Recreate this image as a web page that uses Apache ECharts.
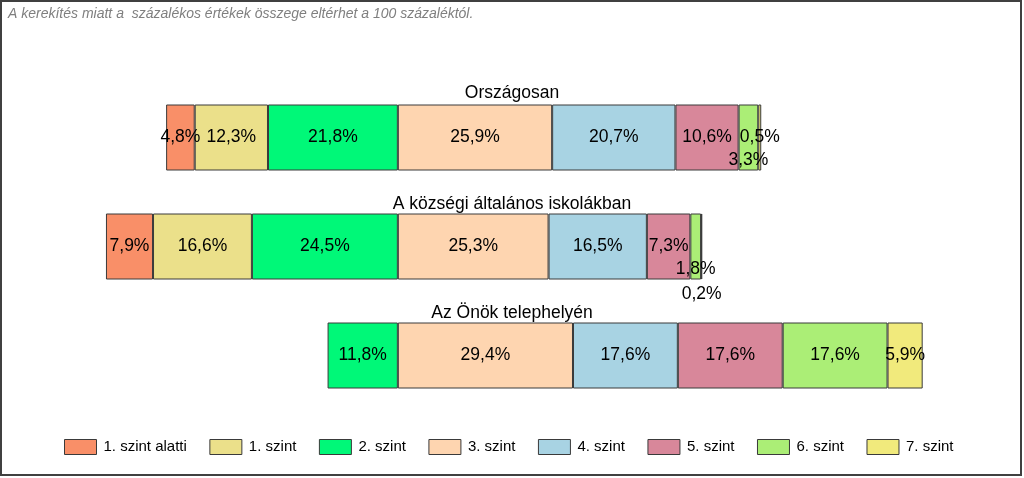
<!DOCTYPE html>
<html>
<head>
<meta charset="utf-8">
<title>Képességszintek</title>
<script src="https://cdn.jsdelivr.net/npm/echarts@6/dist/echarts.min.js"></script>
<style>
  html, body { margin: 0; padding: 0; background: #fff; }
  #chart { width: 1024px; height: 478px; }
</style>
</head>
<body>
<div id="chart"></div>
<script>
// Categories (top to bottom)
var groups = ['Országosan', 'A községi általános iskolákban', 'Az Önök telephelyén'];

// Level names, legend order
var levels = ['1. szint alatti', '1. szint', '2. szint', '3. szint', '4. szint', '5. szint', '6. szint', '7. szint'];

// Percentages per level, one value per group (null = not shown)
var belowL1 = [4.8, 7.9, null];
var level1  = [12.3, 16.6, null];
var level2  = [21.8, 24.5, 11.8];
var level3  = [25.9, 25.3, 29.4];
var level4  = [20.7, 16.5, 17.6];
var level5  = [10.6, 7.3, 17.6];
var level6  = [3.3, 1.8, 17.6];
var level7  = [0.5, 0.2, 5.9];

var colors = {
    '1. szint alatti': '#f98f68',
    '1. szint': '#ebe08a',
    '2. szint': '#00f878',
    '3. szint': '#fed5b0',
    '4. szint': '#a8d3e3',
    '5. szint': '#d8879a',
    '6. szint': '#abee76',
    '7. szint': '#f1ea7c'
};

var FONT = 'Liberation Sans, Arial, sans-serif';

var chart = echarts.init(document.getElementById('chart'));

function fmt(p) {
    var v = Math.abs(p.value);
    return v.toFixed(1).replace('.', ',') + '%';
}

// levels below 3. szint go to the left of the common baseline
function buildSeries(name, values, negative, offsets) {
    return {
        name: name,
        type: 'bar',
        stack: 'total',
        barWidth: 66,
        itemStyle: { color: colors[name], borderColor: '#3a3a3a', borderWidth: 1 },
        label: {
            show: true,
            formatter: fmt,
            color: '#000',
            fontSize: 17.5,
            fontFamily: FONT
        },
        data: values.map(function (v, i) {
            if (v === null) return '-';
            var d = { value: negative ? -v : v };
            if (offsets && offsets[i]) d.label = { offset: offsets[i] };
            return d;
        })
    };
}

var series = [
    buildSeries('2. szint', level2, true),
    buildSeries('1. szint', level1, true),
    buildSeries('1. szint alatti', belowL1, true),
    buildSeries('3. szint', level3, false),
    buildSeries('4. szint', level4, false),
    buildSeries('5. szint', level5, false),
    buildSeries('6. szint', level6, false, [[0, 23], [0, 23], null]),
    buildSeries('7. szint', level7, false, [null, [0, 48], null])
];

var titleFont = { fontSize: 17.5, fontWeight: 'normal', color: '#000', fontFamily: FONT };

chart.setOption({
    animation: false,
    title: [
        {
            text: 'A kerekítés miatt a  százalékos értékek összege eltérhet a 100 százaléktól.',
            left: 3, top: 2,
            textStyle: { fontSize: 14, fontStyle: 'italic', fontWeight: 'normal', color: '#7f7f7f', fontFamily: FONT }
        },
        { text: groups[0], left: 'center', top: 79, textStyle: titleFont },
        { text: groups[1], left: 'center', top: 190, textStyle: titleFont },
        { text: groups[2], left: 'center', top: 299, textStyle: titleFont }
    ],
    legend: {
        data: levels,
        left: 59,
        top: 434,
        itemWidth: 32,
        itemHeight: 15,
        itemGap: 22.5,
        icon: 'rect',
        selectedMode: false,
        itemStyle: { borderColor: '#3a3a3a', borderWidth: 1 },
        textStyle: { fontSize: 15, color: '#000', fontFamily: FONT, padding: [0, 0, 0, 2] }
    },
    grid: { left: 100, right: 90, top: 83, height: 327, containLabel: false },
    xAxis: {
        type: 'value',
        min: -50,
        max: 90,
        show: false
    },
    yAxis: {
        type: 'category',
        data: groups,
        inverse: true,
        show: false
    },
    graphic: [{
        type: 'rect',
        shape: { x: 1, y: 1, width: 1020, height: 474 },
        style: { fill: 'none', stroke: '#404040', lineWidth: 2 },
        silent: true
    }],
    series: series
});

window.addEventListener('resize', function () {
    chart.resize();
});
</script>
</body>
</html>
